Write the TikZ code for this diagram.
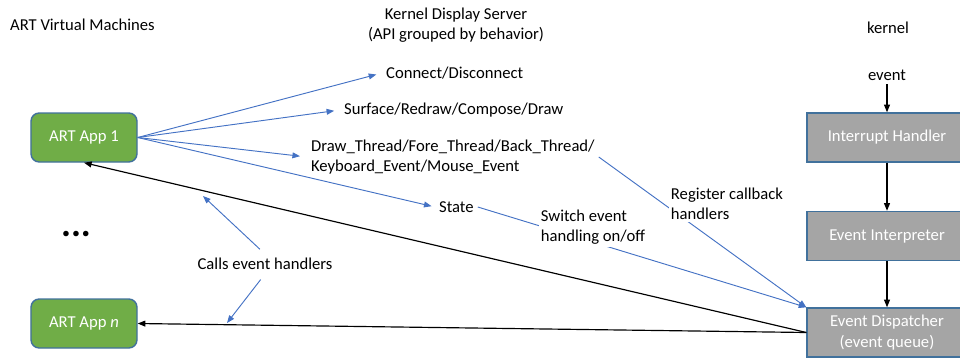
\documentclass[tikz,border=0pt]{standalone}
\usepackage{fontspec}
\setmainfont{Carlito}
\usetikzlibrary{arrows.meta}
\definecolor{appgreen}{HTML}{70AD47}
\definecolor{boxline}{HTML}{41719C}
\definecolor{kgray}{HTML}{A5A5A5}
\definecolor{callblue}{HTML}{4472C4}

\begin{document}
\begin{tikzpicture}[x=0.03cm, y=-0.03cm,
    every node/.style={font=\fontsize{14.2}{17.5}\selectfont},
    appbox/.style={shape=rectangle, rounded corners=7pt, draw=boxline, line width=1.2pt, fill=appgreen, text=white, minimum width=3.18cm, minimum height=1.47cm},
    kbox/.style={shape=rectangle, draw=boxline, line width=1.2pt, fill=kgray, text=white, minimum width=4.8cm, minimum height=1.47cm, align=center},
    bluearr/.style={-{Triangle[length=6.5pt,width=5pt]}, color=callblue, line width=0.8pt},
    blackarr/.style={-{Triangle[length=6.5pt,width=5pt]}, color=black, line width=1pt},
    covered/.style={fill=white, align=left, inner sep=2pt}]
    \useasboundingbox (0,0) rectangle (960,357);

    % column titles
    \node[anchor=west] (vmtitle) at (6,25) {ART Virtual Machines};
    \node[align=center] (kdstitle) at (456,25) {Kernel Display Server\\(API grouped by behavior)};
    \node (ktitle) at (888,28) {kernel};

    % apps
    \node[appbox] (app1) at (84,137.5) {ART App 1};
    \node[appbox] (appn) at (84,323.5) {ART App \textit{n}};
    \node[anchor=base, font=\fontsize{31.7}{36}\selectfont\bfseries] (dots) at (76,236) {...};

    % kernel side
    \node (event) at (887,75) {event};
    \node[kbox] (ih) at (887,137.5) {Interrupt Handler};
    \node[kbox] (ei) at (887,236) {Event Interpreter};
    \node[kbox] (ed) at (887,332.5) {Event Dispatcher\\(event queue)};

    % API groups
    \node[anchor=west] (conn) at (382,73) {Connect/Disconnect};
    \node[anchor=west] (surf) at (340,110) {Surface/Redraw/Compose/Draw};
    \node[anchor=west, align=left] (thread) at (307,157) {Draw\_Thread/Fore\_Thread/Back\_Thread/\\Keyboard\_Event/Mouse\_Event};
    \node[anchor=west] (state) at (435,207) {State};

    \node (calls) at (265,264) {Calls event handlers};
    \coordinate (callup) at (203,196);
    \coordinate (calldown) at (227,323);

    \path [bluearr, shorten >=5pt] (app1.east) edge (conn.west);
    \path [bluearr, shorten >=5pt] (app1.east) edge (surf.west);
    \path [bluearr, shorten >=6pt] (app1.east) edge (thread.west);
    \path [bluearr, shorten >=3pt] (app1.east) edge (state.west);

    \path [bluearr] (thread.east) edge (ed.north west);
    \path [bluearr] (state.east) edge (ed.north west);
    \node[covered] (reg) at (727,204) {Register callback\\handlers};
    \node[covered] (switch) at (593,227) {Switch event\\handling on/off};

    \path [bluearr, shorten <=6pt] (calls.north) edge (callup);
    \path [bluearr, shorten <=6pt] (calls.south) edge (calldown);

    \path [blackarr] (ed.west) edge (app1.south);
    \path [blackarr] (ed.west) edge (appn.east);

    \path [blackarr] (event) edge (ih);
    \path [blackarr] (ih) edge (ei);
    \path [blackarr] (ei) edge (ed);

\end{tikzpicture}
\end{document}
